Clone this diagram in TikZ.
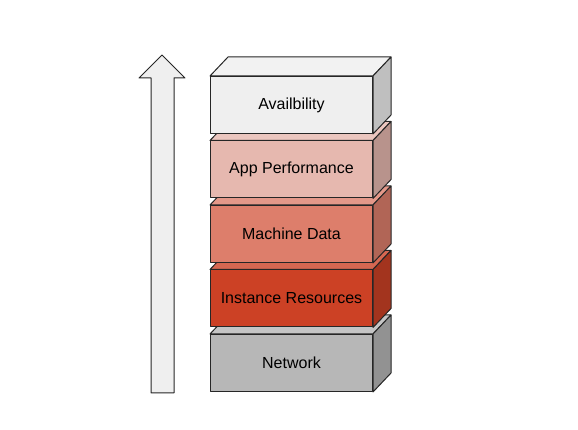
\documentclass[tikz,border=0pt]{standalone}
\usepackage{fontspec}
\setmainfont{Liberation Sans}
\definecolor{availfill}{HTML}{EFEFEF}
\definecolor{appfill}{HTML}{E6B8AF}
\definecolor{machfill}{HTML}{DD7E6B}
\definecolor{instfill}{HTML}{CC4125}
\definecolor{netfill}{HTML}{B7B7B7}
\begin{document}
\begin{tikzpicture}[x=1pt,y=1pt,
	face/.style={draw=black!85, line width=1pt, line join=round},
	layer/.style={face, minimum width=162pt, minimum height=57pt, inner sep=0pt,
		anchor=south west, font=\fontsize{16}{18}\selectfont}]
	\useasboundingbox (0,0) rectangle (578,430);
	% arrow on the left
	\draw[face, fill=availfill] (151,37) -- (151,352) -- (139,352) -- (162,375)
		-- (185,352) -- (174,352) -- (174,37) -- cycle;
	% stack of layers, bottom first
	\foreach \nm/\yy/\col/\txt in {net/38/netfill/Network,
			inst/102.5/instfill/Instance Resources,
			mach/167/machfill/Machine Data,
			app/231.5/appfill/App Performance,
			avail/296/availfill/Availbility}{
		\node[layer, fill=\col] (\nm) at (210,\yy) {\txt};
		\draw[face, fill=\col!80!white] (\nm.north west) -- ++(18,19)
			-- ([shift={(18,19)}]\nm.north east) -- (\nm.north east) -- cycle;
		\draw[face, fill=\col!80!black] (\nm.south east) -- ++(18,19)
			-- ([shift={(18,19)}]\nm.north east) -- (\nm.north east) -- cycle;
	}
\end{tikzpicture}
\end{document}
